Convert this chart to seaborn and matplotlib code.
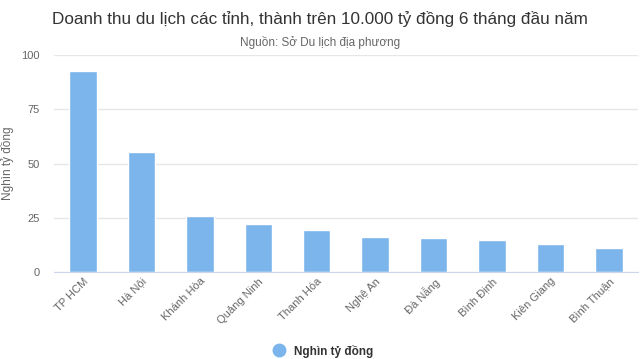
import numpy as np
import pandas as pd
import matplotlib
matplotlib.use("Agg")
import matplotlib.pyplot as plt
import seaborn as sns
from matplotlib.lines import Line2D

# Données : doanh thu du lịch 6 tháng đầu năm (nghìn tỷ đồng)
provinces = ["TP HCM", "Hà Nội", "Khánh Hòa", "Quảng Ninh", "Thanh Hóa",
             "Nghệ An", "Đà Nẵng", "Bình Định", "Kiên Giang", "Bình Thuận"]
revenue = [92.7, 55.2, 25.7, 22.1, 19.5, 16.0, 15.5, 14.8, 13.1, 11.2]
y_ticks = [0, 25, 50, 75, 100]

df = pd.DataFrame({"Tỉnh": provinces, "Doanh thu": revenue})

sns.set_style("white")
plt.rcParams['font.family'] = ['Liberation Sans', 'DejaVu Sans']

bar_color = "#7cb5ec"

fig = plt.figure(figsize=(6.4, 3.59), dpi=100)
ax = fig.add_axes([0.084, 0.2423, 0.913, 0.6037])

sns.barplot(data=df, x="Tỉnh", y="Doanh thu", color=bar_color,
            width=0.47, saturation=1, ax=ax, zorder=3)

ax.set_ylim(0, 100)
ax.set_xlim(-0.5, len(provinces) - 0.5)
ax.set_yticks(y_ticks)
ax.set_yticklabels([str(t) for t in y_ticks], color="#666666", fontsize=8)
ax.yaxis.grid(True, color="#e6e6e6", linewidth=1, zorder=0)
ax.tick_params(axis="y", length=0, pad=10)
ax.tick_params(axis="x", length=0, pad=3)
ax.set_xticks(range(len(provinces)))
ax.set_xticklabels(provinces, rotation=45, ha="right", rotation_mode="anchor",
                   color="#666666", fontsize=8)

for s in ["top", "right", "left"]:
    ax.spines[s].set_visible(False)
ax.spines["bottom"].set_color("#ccd6eb")
ax.spines["bottom"].set_zorder(4)

ax.set_xlabel("")
ax.set_ylabel("Nghìn tỷ đồng", color="#666666", fontsize=8.5)
ax.yaxis.set_label_coords(-0.068, 0.5)

fig.text(0.5, 0.947, "Doanh thu du lịch các tỉnh, thành trên 10.000 tỷ đồng 6 tháng đầu năm",
         ha="center", va="center", fontsize=12.3, color="#333333")
fig.text(0.5, 0.883, "Nguồn: Sở Du lịch địa phương",
         ha="center", va="center", fontsize=8.5, color="#666666")

handle = Line2D([], [], marker="o", linestyle="", markersize=9,
                markerfacecolor=bar_color, markeredgecolor=bar_color)
fig.legend([handle], ["Nghìn tỷ đồng"], loc="center", bbox_to_anchor=(0.5, 0.022),
           frameon=False, handletextpad=0.3,
           prop={"weight": "bold", "size": 8.5})
for t in fig.legends[0].get_texts():
    t.set_color("#333333")

fig.savefig("out.png", dpi=100)
